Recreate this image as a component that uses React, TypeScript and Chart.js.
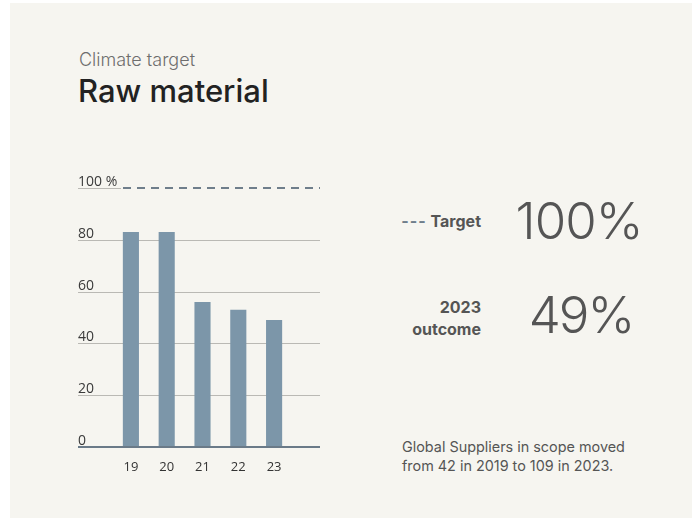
import React, { useEffect, useRef } from 'react';
import { Chart, registerables } from 'chart.js';

Chart.register(...registerables);

const years = ['19', '20', '21', '22', '23'];
const outcome = [83, 83, 56, 53, 49];
const targetValue = 100;
const yTickValues = [0, 20, 40, 60, 80, 100];

const BAR = '#7c96a9';
const GRID = '#bab9b4';
const DASH = '#6f7e8b';

const gridPlugin = {
  id: 'customGrid',
  beforeDatasetsDraw(chart: any) {
    const { ctx, chartArea, scales } = chart;
    const y = scales.y;
    const left = y.left;
    const right = chartArea.right + 28;
    ctx.save();
    ctx.lineWidth = 1;
    ctx.strokeStyle = GRID;
    yTickValues.forEach((v) => {
      if (v === 0) return;
      const py = Math.round(y.getPixelForValue(v)) + 0.5;
      const end = v === targetValue ? chartArea.left + 8 : right;
      ctx.beginPath();
      ctx.moveTo(left, py);
      ctx.lineTo(end, py);
      ctx.stroke();
    });
    const ty = Math.round(y.getPixelForValue(targetValue));
    ctx.strokeStyle = DASH;
    ctx.lineWidth = 2;
    ctx.setLineDash([8, 6]);
    ctx.beginPath();
    ctx.moveTo(chartArea.left + 10, ty);
    ctx.lineTo(right, ty);
    ctx.stroke();
    ctx.restore();
  },
  afterDatasetsDraw(chart: any) {
    const { ctx, chartArea, scales } = chart;
    const y = scales.y;
    const py = Math.round(y.getPixelForValue(0));
    ctx.save();
    ctx.strokeStyle = '#6a7a88';
    ctx.lineWidth = 2;
    ctx.beginPath();
    ctx.moveTo(y.left, py);
    ctx.lineTo(chartArea.right + 28, py);
    ctx.stroke();
    ctx.restore();
  },
};

function BarChart() {
  const ref = useRef<HTMLCanvasElement>(null);
  useEffect(() => {
    if (!ref.current) return;
    const chart = new Chart(ref.current, {
      type: 'bar',
      data: {
        labels: years,
        datasets: [
          {
            data: outcome,
            backgroundColor: BAR,
            borderWidth: 0,
            categoryPercentage: 1,
            barPercentage: 0.45,
          },
        ],
      },
      options: {
        animation: false,
        responsive: false,
        maintainAspectRatio: false,
        layout: { padding: { left: 8, right: 38, top: 18, bottom: 13 } },
        plugins: { legend: { display: false }, tooltip: { enabled: false } },
        scales: {
          x: {
            grid: { display: false, drawTicks: false },
            border: { display: false },
            ticks: {
              padding: 12,
              color: '#333',
              font: { family: 'Open Sans', size: 13 },
            },
            afterFit(s: any) {
              s.height = 30;
            },
          },
          y: {
            min: 0,
            max: 100,
            grid: { display: false, drawTicks: false },
            border: { display: false },
            ticks: {
              stepSize: 20,
              mirror: true,
              crossAlign: 'near',
              padding: -35,
              labelOffset: -6,
              color: '#3a3a3a',
              font: { family: 'Open Sans', size: 14 },
              callback: (v: any) => (v === targetValue ? '100 %' : String(v)),
            },
            afterFit(s: any) {
              s.width = 35;
            },
          },
        },
      },
      plugins: [gridPlugin],
    } as any);
    return () => chart.destroy();
  }, []);
  return (
    <canvas
      ref={ref}
      width={260}
      height={320}
      style={{ position: 'absolute', left: 70, top: 170, width: 260, height: 320 }}
    />
  );
}

export default function App() {
  const abs = (extra: React.CSSProperties): React.CSSProperties => ({
    position: 'absolute',
    whiteSpace: 'nowrap',
    margin: 0,
    ...extra,
  });
  return (
    <div>
      <div
        style={{
          position: 'absolute',
          left: 10,
          top: 3,
          width: 682,
          height: 515,
          background: '#f6f5f0',
        }}
      />
      <div style={abs({ left: 79, top: 51, fontFamily: 'Inter', fontWeight: 300, fontSize: 18, lineHeight: '18px', color: '#6e6e6e' })}>
        Climate target
      </div>
      <div style={abs({ left: 78, top: 75, fontFamily: 'Inter', fontWeight: 500, fontSize: 31, lineHeight: '31px', color: '#222' })}>
        Raw material
      </div>
      <BarChart />
      <div style={abs({ right: 692 - 481, top: 213, fontFamily: 'Inter', fontWeight: 700, fontSize: 16, lineHeight: '16px', color: '#555', textAlign: 'right' })}>
        <span style={{ color: DASH, letterSpacing: 1 }}>---</span> Target
      </div>
      <div style={abs({ right: 692 - 481, top: 296, fontFamily: 'Inter', fontWeight: 700, fontSize: 16, lineHeight: '22px', color: '#555', textAlign: 'right' })}>
        2023
        <br />
        outcome
      </div>
      <div style={abs({ left: 479, width: 200, top: 195, fontFamily: 'Inter', fontWeight: 300, fontSize: 51, lineHeight: '51px', color: '#555', textAlign: 'center', letterSpacing: -1 })}>
        100%
      </div>
      <div style={abs({ left: 481, width: 200, top: 289, fontFamily: 'Inter', fontWeight: 300, fontSize: 51, lineHeight: '51px', color: '#555', textAlign: 'center', letterSpacing: -2 })}>
        49%
      </div>
      <div style={abs({ left: 402, top: 438, fontFamily: 'Inter', fontWeight: 400, fontSize: 14.4, lineHeight: '18.5px', color: '#555' })}>
        Global Suppliers in scope moved
        <br />
        from 42 in 2019 to 109 in 2023.
      </div>
    </div>
  );
}
